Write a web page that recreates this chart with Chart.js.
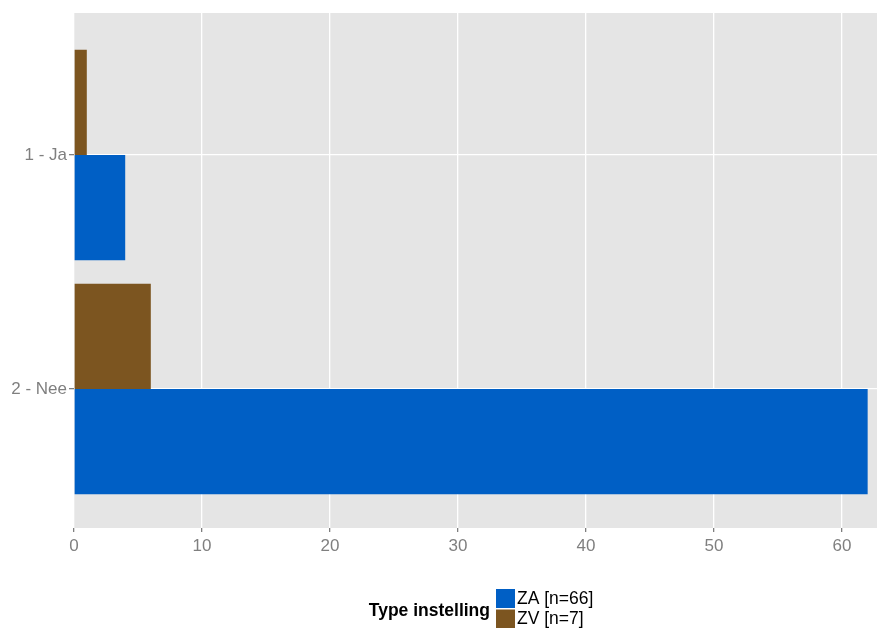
<!DOCTYPE html>
<html>
<head>
<meta charset="utf-8">
<script src="https://cdn.jsdelivr.net/npm/chart.js@4"></script>
<style>
  body { margin: 0; background: #fff; }
  canvas { display: block; }
</style>
</head>
<body>
<canvas id="grafico" width="877" height="628"></canvas>
<script>
// categories (top to bottom) and series values
const categorias = ['1 - Ja', '2 - Nee'];
const serieZA = [4, 62];
const serieZV = [1, 6];
const leyendaTitulo = 'Type instelling';
const leyendaZA = 'ZA [n=66]';
const leyendaZV = 'ZV [n=7]';
const colorZA = '#005fc5';
const colorZV = '#7c5520';
const xTicks = [0, 10, 20, 30, 40, 50, 60];

const puntos = serie => serie.map((v, i) => ({ x: v, y: i + 1 }));
const fuente = '"Liberation Sans", Arial, sans-serif';

// gray panel behind the plot
const fondoPanel = {
  id: 'fondoPanel',
  beforeDraw(chart) {
    const { ctx, chartArea: a } = chart;
    ctx.save();
    ctx.fillStyle = '#e5e5e5';
    ctx.fillRect(a.left, a.top, a.right - a.left, a.bottom - a.top);
    ctx.restore();
  }
};

// ggplot-like legend at the bottom
const leyenda = {
  id: 'leyenda',
  afterDraw(chart) {
    const ctx = chart.ctx;
    ctx.save();
    ctx.textBaseline = 'middle';
    ctx.fillStyle = '#000';
    ctx.font = 'bold 17.5px ' + fuente;
    ctx.textAlign = 'right';
    ctx.fillText(leyendaTitulo, 490, 611);
    const items = [[leyendaZA, colorZA], [leyendaZV, colorZV]];
    items.forEach(([txt, col], i) => {
      const y = 589 + i * 20.5;
      ctx.fillStyle = col;
      ctx.fillRect(496, y, 19, 19);
      ctx.fillStyle = '#000';
      ctx.font = '17.5px ' + fuente;
      ctx.textAlign = 'left';
      ctx.fillText(txt, 517, y + 10);
    });
    ctx.restore();
  }
};

const ctx = document.getElementById('grafico').getContext('2d');
const chart = new Chart(ctx, {
  type: 'bar',
  data: {
    datasets: [
      { label: leyendaZV, data: puntos(serieZV), backgroundColor: colorZV },
      { label: leyendaZA, data: puntos(serieZA), backgroundColor: colorZA }
    ]
  },
  options: {
    responsive: false,
    animation: false,
    indexAxis: 'y',
    categoryPercentage: 0.9,
    barPercentage: 1,
    layout: { padding: { top: 13, right: 0, left: 0, bottom: 0 } },
    plugins: { legend: { display: false }, tooltip: { enabled: false } },
    scales: {
      x: {
        type: 'linear',
        min: 0,
        max: 62.73,
        afterBuildTicks: s => { s.ticks = xTicks.map(v => ({ value: v })); },
        afterFit: s => { s.height = 100; },
        border: { display: false },
        grid: { color: '#ffffff', lineWidth: 1.3, tickColor: '#7f7f7f', tickLength: 4 },
        ticks: {
          color: '#7f7f7f',
          padding: 4,
          maxRotation: 0,
          font: { family: fuente, size: 17 }
        }
      },
      y: {
        type: 'linear',
        reverse: true,
        offset: false,
        min: 0.393,
        max: 2.594,
        afterBuildTicks: s => { s.ticks = categorias.map((c, i) => ({ value: i + 1 })); },
        afterFit: s => { s.width = 74; },
        border: { display: false },
        grid: { offset: false, color: '#ffffff', lineWidth: 1.3, tickColor: '#7f7f7f', tickLength: 5 },
        ticks: {
          color: '#7f7f7f',
          padding: 2,
          callback: v => categorias[v - 1],
          font: { family: fuente, size: 17 }
        }
      }
    }
  },
  plugins: [fondoPanel, leyenda]
});
</script>
</body>
</html>
